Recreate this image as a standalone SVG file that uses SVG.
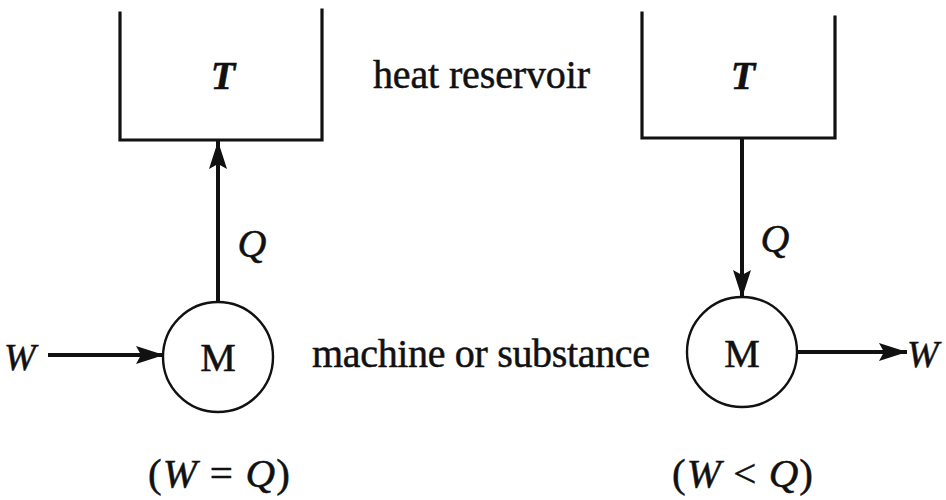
<svg xmlns="http://www.w3.org/2000/svg" width="946" height="500" viewBox="0 0 946 500">
  <style>
    .txt { font-family: "Liberation Serif", "Times New Roman", serif; fill: #111; stroke: #111; stroke-width: 0.5; }
    .it { font-style: italic; }
    .res { fill: none; stroke: #111; stroke-width: 3.2; stroke-linecap: square; }
    .mach { fill: #fff; stroke: #111; stroke-width: 2.4; }
    .flow { stroke: #111; stroke-width: 4; fill: none; }
  </style>
  <defs>
    <marker id="head" viewBox="0 0 28 18" refX="28" refY="9" markerWidth="28" markerHeight="18" markerUnits="userSpaceOnUse" orient="auto">
      <path d="M0,0 L28,9 L0,18 L5,9 Z" fill="#111"/>
    </marker>
  </defs>
  <rect width="946" height="500" fill="#fff"/>

  <!-- connectors -->
  <g id="connectors">
    <line class="flow" x1="218" y1="302" x2="218" y2="141" marker-end="url(#head)"/>
    <line class="flow" x1="48" y1="355" x2="164" y2="355" marker-end="url(#head)"/>
    <line class="flow" x1="742" y1="139" x2="742" y2="298" marker-end="url(#head)"/>
    <line class="flow" x1="797" y1="352" x2="907" y2="352" marker-end="url(#head)"/>
  </g>

  <!-- left: work into machine, heat out to reservoir -->
  <g id="reservoir-left">
    <path class="res" d="M120,13 V140 H322 V10"/>
    <text class="txt it" x="223" y="89" font-size="40" font-weight="bold" text-anchor="middle">T</text>
  </g>
  <g id="machine-left">
    <circle class="mach" cx="218" cy="357" r="55"/>
    <text class="txt" x="218" y="371" font-size="40" text-anchor="middle">M</text>
  </g>

  <!-- right: heat from reservoir, work out of machine -->
  <g id="reservoir-right">
    <path class="res" d="M642,13 V138 H835 V17"/>
    <text class="txt it" x="743" y="89" font-size="40" font-weight="bold" text-anchor="middle">T</text>
  </g>
  <g id="machine-right">
    <circle class="mach" cx="742" cy="352" r="55"/>
    <text class="txt" x="742" y="367" font-size="40" text-anchor="middle">M</text>
  </g>

  <!-- labels -->
  <g id="labels">
    <text class="txt it" x="252" y="257" font-size="40" text-anchor="middle">Q</text>
    <text class="txt it" x="775" y="252" font-size="40" text-anchor="middle">Q</text>
    <text class="txt it" x="4" y="370" font-size="38">W</text>
    <text class="txt it" x="907" y="367" font-size="38">W</text>
    <text class="txt" x="373" y="88" font-size="40" textLength="217">heat reservoir</text>
    <text class="txt" x="312" y="367" font-size="40" textLength="338">machine or substance</text>
    <text class="txt" x="148" y="487" font-size="41" textLength="142">(<tspan class="it">W</tspan> = <tspan class="it">Q</tspan>)</text>
    <text class="txt" x="672" y="487" font-size="41" textLength="141">(<tspan class="it">W</tspan> &lt; <tspan class="it">Q</tspan>)</text>
  </g>
</svg>
